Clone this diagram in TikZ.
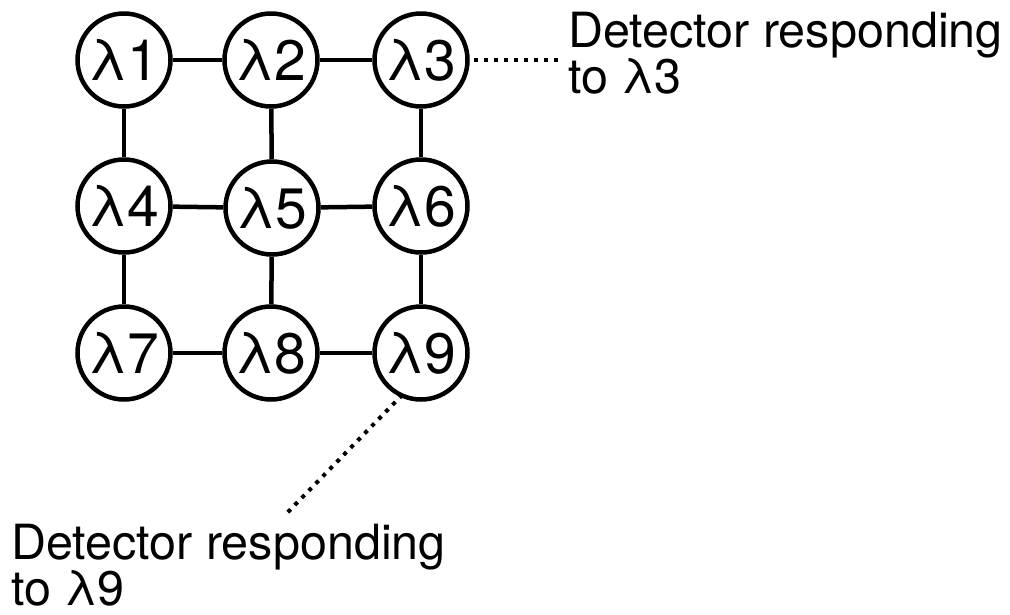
\documentclass[tikz,border=0pt]{standalone}
\usepackage{fontspec}
\setmainfont{TeX Gyre Heros}
\begin{document}
\begin{tikzpicture}[x=1pt,y=-1pt,
  cell/.style={circle,draw,line width=4.5pt,minimum size=93pt,inner sep=0pt,
    font=\fontsize{57}{57}\selectfont},
  link/.style={line width=4.5pt},
  dotline/.style={line width=4pt,dash pattern=on 4pt off 6pt},
  caption/.style={align=left,inner sep=0pt,font=\fontsize{48.5}{46}\selectfont}]
\useasboundingbox (0,0) rectangle (1010,614);
% grid of wavelength detectors
\node[cell] (l1) at (124,60)  {λ1};
\node[cell] (l2) at (271,60)  {λ2};
\node[cell] (l3) at (421,60)  {λ3};
\node[cell] (l4) at (124,206) {λ4};
\node[cell] (l5) at (272,208) {λ5};
\node[cell] (l6) at (421,206) {λ6};
\node[cell] (l7) at (124,353) {λ7};
\node[cell] (l8) at (271,353) {λ8};
\node[cell] (l9) at (421,353) {λ9};
% horizontal links
\draw[link] (l1) -- (l2);
\draw[link] (l2) -- (l3);
\draw[link] (l4) -- (l5);
\draw[link] (l5) -- (l6);
\draw[link] (l7) -- (l8);
\draw[link] (l8) -- (l9);
% vertical links
\draw[link] (l1) -- (l4);
\draw[link] (l4) -- (l7);
\draw[link] (l2) -- (l5);
\draw[link] (l5) -- (l8);
\draw[link] (l3) -- (l6);
\draw[link] (l6) -- (l9);
% callouts
\node[caption,anchor=north west] (c3) at (568,12) {Detector responding\\to λ3};
\node[caption,anchor=north west] (c9) at (11,524) {Detector responding\\to λ9};
\coordinate (e3) at (563,60);
\coordinate (e9) at (287,513);
\draw[dotline] ([xshift=4pt]l3.east) -- (e3);
\draw[dotline] ([shift={(-2pt,4pt)}]l9.250) -- (e9);
\end{tikzpicture}
\end{document}
